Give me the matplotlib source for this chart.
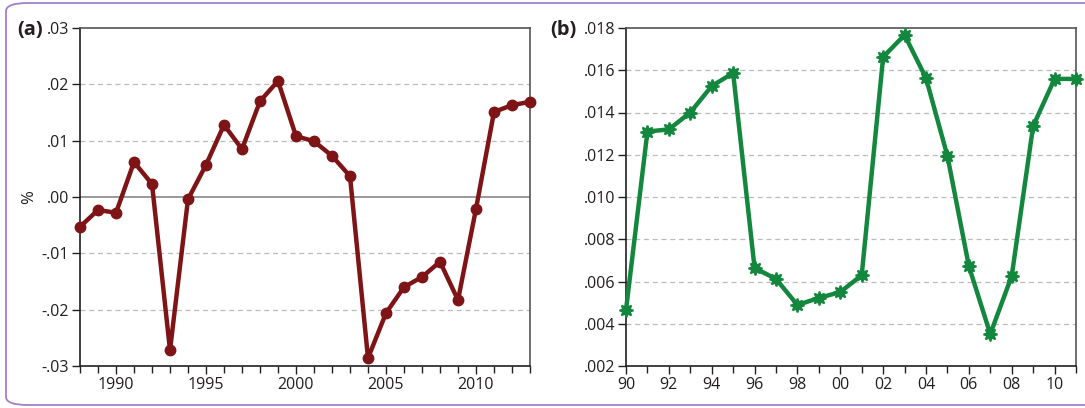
import matplotlib
matplotlib.use("Agg")
import matplotlib.pyplot as plt
from matplotlib.patches import FancyBboxPatch
from matplotlib.ticker import MultipleLocator, FuncFormatter

plt.rcParams['font.family'] = ['Open Sans', 'DejaVu Sans']

years_a = list(range(1988, 2014))
values_a = [-0.0053, -0.0023, -0.0028, 0.0062, 0.0023, -0.0272, -0.0004, 0.0057,
            0.0128, 0.0085, 0.0170, 0.0206, 0.0108, 0.0099, 0.0073, 0.0037,
            -0.0286, -0.0206, -0.0160, -0.0142, -0.0115, -0.0183, -0.0021,
            0.0151, 0.0163, 0.0169]

years_b = list(range(1990, 2012))
values_b = [0.00465, 0.0131, 0.0132, 0.0140, 0.01525, 0.01587, 0.00664, 0.00612,
            0.00489, 0.00522, 0.0055, 0.0063, 0.01663, 0.01767, 0.01563, 0.01194,
            0.00673, 0.00351, 0.00626, 0.01336, 0.01559, 0.01559]

yticks_a = [-0.03, -0.02, -0.01, 0.0, 0.01, 0.02, 0.03]
yticks_b = [0.002, 0.004, 0.006, 0.008, 0.010, 0.012, 0.014, 0.016, 0.018]

red = '#7f1417'
green = '#13873d'
txt = '#231f20'

fig = plt.figure(figsize=(10.85, 4.08), dpi=100)

frame = FancyBboxPatch((6/1085, 3/408), 1120/1085, 402/408,
                       boxstyle="round,pad=0,rounding_size=0.02",
                       transform=fig.transFigure, fill=False,
                       edgecolor='#a57fc8', linewidth=1.3)
fig.patches.append(frame)

def fmt_a(v, pos):
    if abs(v) < 1e-9:
        return ".00"
    return f"{v:.2f}".replace("0.", ".")

def fmt_b(v, pos):
    return f"{v:.3f}".replace("0.", ".", 1)

def style(ax):
    for sp in ax.spines.values():
        sp.set_linewidth(1.2)
        sp.set_color(txt)
    ax.spines['top'].set_color('#555555')
    ax.spines['right'].set_color('#555555')
    ax.tick_params(axis='both', which='both', direction='out', labelsize=11.5,
                   colors=txt, top=False, right=False, pad=2)
    ax.tick_params(axis='both', which='major', length=6, width=1)
    ax.tick_params(axis='x', which='minor', length=5, width=1)

# Panel (a)
ax1 = fig.add_axes([80/1085, 42/408, 450/1085, 338/408])
ax1.plot(years_a, values_a, color=red, linewidth=3.2, marker='o', markersize=7.5,
         zorder=3, clip_on=False)
ax1.set_xlim(1988, 2013)
ax1.set_ylim(-0.03, 0.03)
ax1.set_yticks(yticks_a)
ax1.yaxis.set_major_formatter(FuncFormatter(fmt_a))
ax1.xaxis.set_major_locator(MultipleLocator(5))
ax1.xaxis.set_minor_locator(MultipleLocator(1))
for v in yticks_a[1:-1]:
    if abs(v) < 1e-9:
        ax1.axhline(v, color='#888888', linewidth=1.2, zorder=1)
    else:
        ax1.axhline(v, color='#bbbbbb', linewidth=0.9, linestyle=(0, (4, 3)), zorder=1)
ax1.set_ylabel('%', fontsize=12, labelpad=3, color=txt)
style(ax1)
fig.text(17/1085, 1 - 30/408, '(a)', fontsize=14.5, fontweight='bold', va='center',
         ha='left', color=txt)

# Panel (b)
ax2 = fig.add_axes([626/1085, 42/408, 450/1085, 338/408])
ax2.plot(years_b, values_b, color=green, linewidth=3.2, marker=(8, 1, 0),
         markersize=10, markeredgewidth=1.3, markeredgecolor=green,
         zorder=3, clip_on=False)
ax2.set_xlim(1990, 2011)
ax2.set_ylim(0.002, 0.018)
ax2.set_yticks(yticks_b)
ax2.yaxis.set_major_formatter(FuncFormatter(fmt_b))
ax2.xaxis.set_major_locator(MultipleLocator(2))
ax2.xaxis.set_minor_locator(MultipleLocator(1))
ax2.xaxis.set_major_formatter(FuncFormatter(lambda v, p: f"{int(round(v)) % 100:02d}"))
for v in yticks_b[1:-1]:
    ax2.axhline(v, color='#bbbbbb', linewidth=0.9, linestyle=(0, (4, 3)), zorder=1)
style(ax2)
fig.text(550/1085, 1 - 30/408, '(b)', fontsize=14.5, fontweight='bold', va='center',
         ha='left', color=txt)

fig.savefig('out.png', dpi=100)
